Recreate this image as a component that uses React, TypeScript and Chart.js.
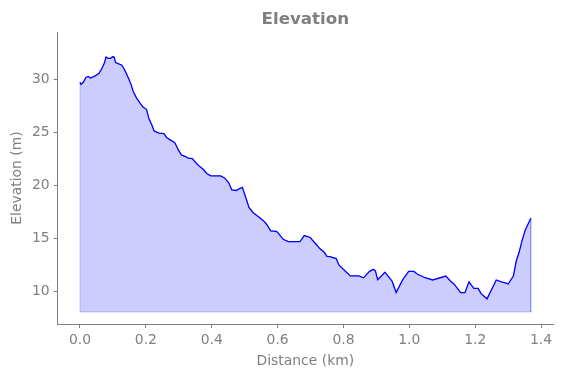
import React, { useEffect, useRef } from "react";
import { Chart, registerables } from "chart.js";

Chart.register(...registerables);

const DISTANCE_KM = [
  0.0, 0.003, 0.01, 0.018, 0.025, 0.032, 0.046, 0.058, 0.066, 0.074, 0.079, 0.086, 0.093, 0.099, 0.104,
  0.108, 0.116, 0.127, 0.135, 0.147, 0.155, 0.162, 0.172, 0.183, 0.192, 0.202, 0.21, 0.218, 0.225, 0.233,
  0.24, 0.255, 0.263, 0.275, 0.288, 0.299, 0.308, 0.32, 0.329, 0.341, 0.356, 0.364, 0.374, 0.385, 0.397,
  0.427, 0.44, 0.452, 0.461, 0.474, 0.483, 0.493, 0.506, 0.513, 0.526, 0.541, 0.557, 0.567, 0.579, 0.597,
  0.607, 0.617, 0.633, 0.668, 0.681, 0.699, 0.714, 0.729, 0.741, 0.75, 0.759, 0.778, 0.786, 0.802, 0.821,
  0.847, 0.861, 0.879, 0.891, 0.897, 0.904, 0.926, 0.948, 0.96, 0.98, 0.998, 1.014, 1.024, 1.048, 1.071,
  1.111, 1.124, 1.136, 1.156, 1.169, 1.181, 1.196, 1.209, 1.218, 1.236, 1.264, 1.279, 1.292, 1.3, 1.316,
  1.325, 1.333, 1.342, 1.352, 1.369,
];

const ELEVATION_M = [
  29.7, 29.5, 29.7, 30.15, 30.25, 30.1, 30.3, 30.55, 30.97, 31.5, 32.07, 31.95, 31.95, 32.1, 32.07,
  31.55, 31.45, 31.3, 30.9, 30.1, 29.5, 28.8, 28.2, 27.7, 27.35, 27.15, 26.2, 25.7, 25.1, 25.0,
  24.9, 24.85, 24.5, 24.25, 24.0, 23.3, 22.85, 22.7, 22.55, 22.5, 21.98, 21.75, 21.5, 21.1, 20.88,
  20.88, 20.66, 20.2, 19.55, 19.5, 19.65, 19.8, 18.6, 17.9, 17.4, 17.04, 16.66, 16.3, 15.7, 15.65,
  15.3, 14.9, 14.68, 14.68, 15.25, 15.07, 14.53, 14.0, 13.7, 13.3, 13.27, 13.08, 12.48, 12.0, 11.45,
  11.45, 11.27, 11.88, 12.07, 11.92, 11.1, 11.8, 10.93, 9.88, 11.1, 11.87, 11.87, 11.63, 11.28, 11.07,
  11.44, 11.0, 10.67, 9.87, 9.87, 10.89, 10.28, 10.28, 9.78, 9.29, 11.07, 10.9, 10.8, 10.69, 11.44,
  12.9, 13.63, 14.75, 15.78, 16.89,
];

const FILL_BASE = 8.05;
const X_TICKS = [0.0, 0.2, 0.4, 0.6, 0.8, 1.0, 1.2, 1.4];
const Y_TICKS = [10, 15, 20, 25, 30];
const X_RANGE = [-0.0677, 1.4363];
const Y_RANGE = [6.92, 34.43];

const TEXT = "#7f7f7f";
const AXIS = "#7f7f7f";

export default function App() {
  const ref = useRef<HTMLCanvasElement | null>(null);

  useEffect(() => {
    document.body.style.margin = "0";
    Chart.defaults.font.family = "'DejaVu Sans', sans-serif";
    const pts = DISTANCE_KM.map((x, i) => ({ x, y: ELEVATION_M[i] }));
    const first = DISTANCE_KM[0];
    const last = DISTANCE_KM[DISTANCE_KM.length - 1];
    const fillPts = [{ x: first, y: FILL_BASE }, ...pts, { x: last, y: FILL_BASE }];
    const basePts = [
      { x: first, y: FILL_BASE },
      { x: last, y: FILL_BASE },
    ];
    const chart = new Chart(ref.current!, {
      type: "line",
      data: {
        datasets: [
          {
            data: pts,
            borderColor: "#0000ff",
            borderWidth: 1.3,
            pointRadius: 0,
            fill: false,
            tension: 0,
            order: 0,
          },
          {
            data: basePts,
            borderColor: "rgba(0,0,255,0.2)",
            borderWidth: 1,
            pointRadius: 0,
            fill: false,
            order: 1,
          },
          {
            data: fillPts,
            borderColor: "rgba(0,0,255,0.2)",
            backgroundColor: "rgba(0,0,255,0.2)",
            borderWidth: 1,
            pointRadius: 0,
            fill: { value: FILL_BASE },
            tension: 0,
            order: 2,
          },
        ],
      },
      options: {
        animation: false,
        responsive: false,
        layout: { padding: { left: 0, right: 9, top: 0, bottom: 0 } },
        plugins: {
          legend: { display: false },
          tooltip: { enabled: false },
          title: {
            display: true,
            text: "Elevation",
            fullSize: false,
            color: TEXT,
            font: { size: 16.7, weight: "bold" },
            padding: { top: 10, bottom: 2 },
          },
        },
        scales: {
          x: {
            type: "linear",
            min: X_RANGE[0],
            max: X_RANGE[1],
            afterFit: (s: any) => {
              s.height = 54;
            },
            afterBuildTicks: (s: any) => {
              s.ticks = X_TICKS.map((v) => ({ value: v }));
            },
            ticks: {
              color: TEXT,
              font: { size: 13.9 },
              padding: 4,
              maxRotation: 0,
              autoSkip: false,
              callback: (v: any) => Number(v).toFixed(1),
            },
            grid: { drawOnChartArea: false, drawTicks: true, tickLength: 4, color: AXIS },
            border: { color: AXIS, width: 1 },
            title: {
              display: true,
              text: "Distance (km)",
              color: TEXT,
              font: { size: 13.9 },
              padding: { top: 0, bottom: 8 },
            },
          },
          y: {
            type: "linear",
            min: Y_RANGE[0],
            max: Y_RANGE[1],
            afterFit: (s: any) => {
              s.width = 57.7;
            },
            afterBuildTicks: (s: any) => {
              s.ticks = Y_TICKS.map((v) => ({ value: v }));
            },
            ticks: {
              color: TEXT,
              font: { size: 13.9 },
              padding: 4,
              autoSkip: false,
              callback: (v: any) => String(v),
            },
            grid: { drawOnChartArea: false, drawTicks: true, tickLength: 4, color: AXIS },
            border: { color: AXIS, width: 1 },
            title: {
              display: true,
              text: "Elevation (m)",
              color: TEXT,
              font: { size: 13.9 },
              padding: { top: 8.7, bottom: 0 },
            },
          },
        },
      },
    });
    return () => chart.destroy();
  }, []);

  return (
    <div style={{ position: "absolute", left: 0, top: 0, width: 562, height: 378 }}>
      <canvas ref={ref} width={562} height={378} style={{ width: 562, height: 378, display: "block" }} />
    </div>
  );
}
